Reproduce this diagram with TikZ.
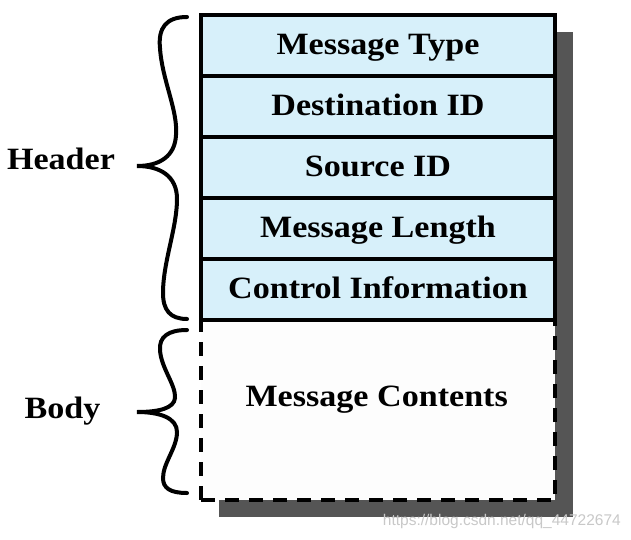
\documentclass[tikz,border=0pt]{standalone}
\usepackage{fontspec}
\setmainfont{Liberation Serif}
\newfontfamily\wmfont{Liberation Sans}
\definecolor{rowblue}{RGB}{215,240,250}
\definecolor{shadowgray}{RGB}{85,85,85}
\definecolor{bodywhite}{RGB}{253,253,253}
\definecolor{wmgray}{RGB}{200,200,200}
\newcommand{\widetext}[1]{\scalebox{1.1}[1]{#1}}
\tikzset{
  bigfont/.style={font=\fontsize{31}{36}\selectfont\bfseries},
  field/.style={draw=black, line width=4pt, fill=rowblue, minimum width=354pt, minimum height=61pt, inner sep=0pt,
    text height=18pt, text depth=0pt, bigfont},
  bodyfield/.style={draw=black, line width=4pt, dash pattern=on 14pt off 10pt, fill=bodywhite, minimum width=354pt, minimum height=181pt, inner sep=0pt},
  bracelabel/.style={bigfont, inner sep=0pt, anchor=base},
  bracestyle/.style={line width=4pt, line cap=round}
}
\begin{document}
\begin{tikzpicture}[x=1pt,y=-1pt]
\useasboundingbox (0,0) rectangle (631,540);
% shadow
\fill[shadowgray] (219,32) rectangle (573,517);
% body
\node[bodyfield] (body) at (378,409.5) {};
\node[bigfont, inner sep=0pt, anchor=base] (contents) at (376.7,406.7) {\widetext{Message Contents}};
% header rows
\node[field] (type) at (378,45.5) {\widetext{Message Type}};
\node[field] (dest) at (378,106.5) {\widetext{Destination ID}};
\node[field] (src) at (378,167.5) {\widetext{Source ID}};
\node[field] (len) at (378,228.5) {\widetext{Message Length}};
\node[field] (ctrl) at (378,289) {\widetext{Control Information}};
% braces
\draw[bracestyle] (187,17) .. controls (166,17) and (158,28) .. (160,48)
  .. controls (162,80) and (178,110) .. (176,135)
  .. controls (175,156) and (160,166) .. (137,166)
  .. controls (160,166) and (177,176) .. (177,199)
  .. controls (177,228) and (163,262) .. (163,293)
  .. controls (163,310) and (170,319) .. (187,319);
\draw[bracestyle] (187,330) .. controls (168,330) and (159,337) .. (160,350)
  .. controls (161,368) and (176,385) .. (175,398)
  .. controls (174,408) and (160,412) .. (137,412)
  .. controls (160,412) and (177,418) .. (177,432)
  .. controls (177,448) and (163,463) .. (163,478)
  .. controls (163,488) and (170,493) .. (187,493);
\node[bracelabel] (header) at (61,170) {\widetext{Header}};
\node[bracelabel] (bodylabel) at (62.5,418.3) {\widetext{Body}};
% watermark
\node[font=\wmfont\fontsize{15.5}{17}\selectfont, text=wmgray, anchor=east, inner sep=0pt] (wm) at (621,521) {https://blog.csdn.net/qq\_44722674};
\end{tikzpicture}
\end{document}
